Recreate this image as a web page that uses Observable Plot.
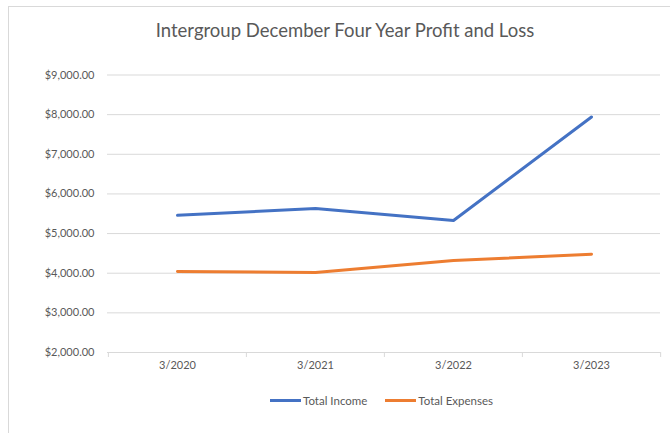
<!DOCTYPE html>
<html>
<head>
<meta charset="utf-8">
<script src="https://cdn.jsdelivr.net/npm/d3@7"></script>
<script src="https://cdn.jsdelivr.net/npm/@observablehq/plot@0.6"></script>
<style>
  html, body { margin: 0; padding: 0; background: #fff; }
  #wrap { position: relative; width: 670px; height: 433px; overflow: hidden; font-family: Lato, "Open Sans", sans-serif; }
  #frame { position: absolute; left: 8px; top: 6px; width: 700px; height: 460px; border: 1px solid #d9d9d9; box-sizing: border-box; }
  #title { position: absolute; left: 0; top: 19px; width: 690px; text-align: center; font-size: 18.5px; color: #595959; }
  #chart { position: absolute; left: 0; top: 0; }
  #legend { position: absolute; left: 0; top: 394px; width: 763px; display: flex; justify-content: center; gap: 18px; font-size: 11.5px; color: #595959; }
  .item { display: flex; align-items: center; }
  .sw { width: 31px; height: 3px; margin-right: 2px; }
</style>
</head>
<body>
<div id="wrap">
  <div id="frame"></div>
  <div id="title">Intergroup December Four Year Profit and Loss</div>
  <div id="chart"></div>
  <div id="legend"></div>
</div>
<script>
const categories = ["3/2020", "3/2021", "3/2022", "3/2023"];
const income = [5460, 5630, 5330, 7940];
const expenses = [4045, 4020, 4320, 4480];
const seriesNames = ["Total Income", "Total Expenses"];
const seriesColors = ["#4472C4", "#ED7D31"];
const yTicks = [2000, 3000, 4000, 5000, 6000, 7000, 8000, 9000];

const rows = [];
categories.forEach((c, i) => {
  rows.push({cat: c, value: income[i], series: seriesNames[0]});
  rows.push({cat: c, value: expenses[i], series: seriesNames[1]});
});

const W = 670, H = 433;
const mL = 107, mR = 10, mT = 74.5, mB = 81;
const step = (W - mL - mR) / categories.length;
const fmt = d3.format("$,.2f");

const chart = Plot.plot({
  width: W,
  height: H,
  marginLeft: mL,
  marginRight: mR,
  marginTop: mT,
  marginBottom: mB,
  style: {fontFamily: "Lato, 'Open Sans', sans-serif", fontSize: "11px", color: "#595959", background: "transparent", overflow: "visible"},
  x: {type: "point", domain: categories, padding: 0.5, label: null, tickSize: 0, tickPadding: 9},
  y: {domain: [2000, 9000], ticks: yTicks, tickFormat: fmt, label: null, tickSize: 0, tickPadding: 13},
  color: {domain: seriesNames, range: seriesColors},
  marks: [
    Plot.ruleY(yTicks.slice(1), {y: d => d, stroke: "#d9d9d9", strokeWidth: 1}),
    Plot.ruleY([2000], {stroke: "#d9d9d9", strokeWidth: 1}),
    Plot.ruleX(categories, {x: d => d, y1: 2000, y2: 2000, dx: -step / 2, stroke: "#d9d9d9", insetBottom: -5}),
    Plot.ruleX(categories.slice(-1), {x: d => d, y1: 2000, y2: 2000, dx: step / 2, stroke: "#d9d9d9", insetBottom: -5}),
    Plot.line(rows, {x: "cat", y: "value", z: "series", stroke: "series", strokeWidth: 3, strokeLinejoin: "round", strokeLinecap: "round"})
  ]
});
document.getElementById("chart").appendChild(chart);

const legend = document.getElementById("legend");
seriesNames.forEach((n, i) => {
  const it = document.createElement("div");
  it.className = "item";
  const sw = document.createElement("span");
  sw.className = "sw";
  sw.style.background = seriesColors[i];
  const tx = document.createElement("span");
  tx.textContent = n;
  it.appendChild(sw); it.appendChild(tx);
  legend.appendChild(it);
});
</script>
</body>
</html>
